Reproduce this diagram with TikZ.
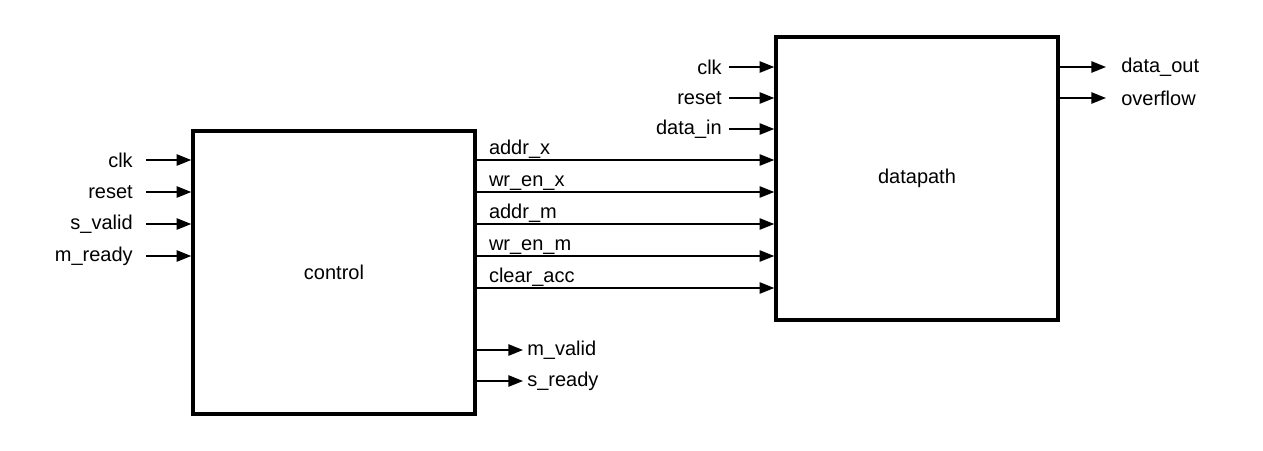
\documentclass[tikz,border=0pt]{standalone}
\usepackage{fontspec}
\setmainfont{Liberation Sans}
\usetikzlibrary{arrows.meta}
\begin{document}
\begin{tikzpicture}[x=0.75pt,y=-0.75pt,
  blk/.style={draw,line width=2.6pt,inner sep=0pt},
  sig/.style={line width=1.2pt,-{Triangle[length=11pt,width=8.5pt]}},
  lbl/.style={font=\fontsize{15}{17}\selectfont,inner sep=0pt},
]
\useasboundingbox (0,0) rectangle (1263,450);
\node[blk,minimum width=282*0.75pt,minimum height=283*0.75pt,lbl] (ctrl) at (334,272.5) {control};
\node[blk,minimum width=282*0.75pt,minimum height=283*0.75pt,lbl] (dp) at (917,178.5) {datapath};
% control inputs
\foreach \n/\t/\y in {cclk/clk/160,creset/reset/192,csv/s\_valid/224,cmr/m\_ready/256}{
  \coordinate (\n) at (146,\y);
  \node[lbl,anchor=east] (\n l) at (133,\y) {\t};
  \draw[sig] (\n) -- (ctrl.west |- \n);
}
% datapath inputs
\foreach \n/\t/\y in {dclk/clk/67,dreset/reset/98,ddin/data\_in/129}{
  \coordinate (\n) at (729,\y);
  \node[lbl,anchor=east] (\n l) at (722,\y) {\t};
  \draw[sig] (\n) -- (dp.west |- \n);
}
% control to datapath
\foreach \n/\t/\y in {ax/addr\_x/160,wx/wr\_en\_x/192,am/addr\_m/224,wm/wr\_en\_m/256,ca/clear\_acc/288}{
  \coordinate (\n) at (ctrl.east |- 0,\y);
  \draw[sig] (\n) -- (dp.west |- \n);
  \node[lbl,anchor=base west] (\n t) at ([xshift=9pt,yshift=4.5pt]\n) {\t};
}
% datapath outputs
\foreach \n/\t/\y in {dout/data\_out/67,ovf/overflow/98}{
  \coordinate (\n) at (1106,\y);
  \node[lbl,anchor=west] (\n l) at (1121,\y) {\t};
  \draw[sig] (dp.east |- \n) -- (\n);
}
% control outputs
\foreach \n/\t/\y in {mv/m\_valid/350,sr/s\_ready/381}{
  \coordinate (\n) at (523,\y);
  \node[lbl,anchor=west] (\n l) at (527,\y) {\t};
  \draw[sig] (ctrl.east |- \n) -- (\n);
}
\end{tikzpicture}
\end{document}
